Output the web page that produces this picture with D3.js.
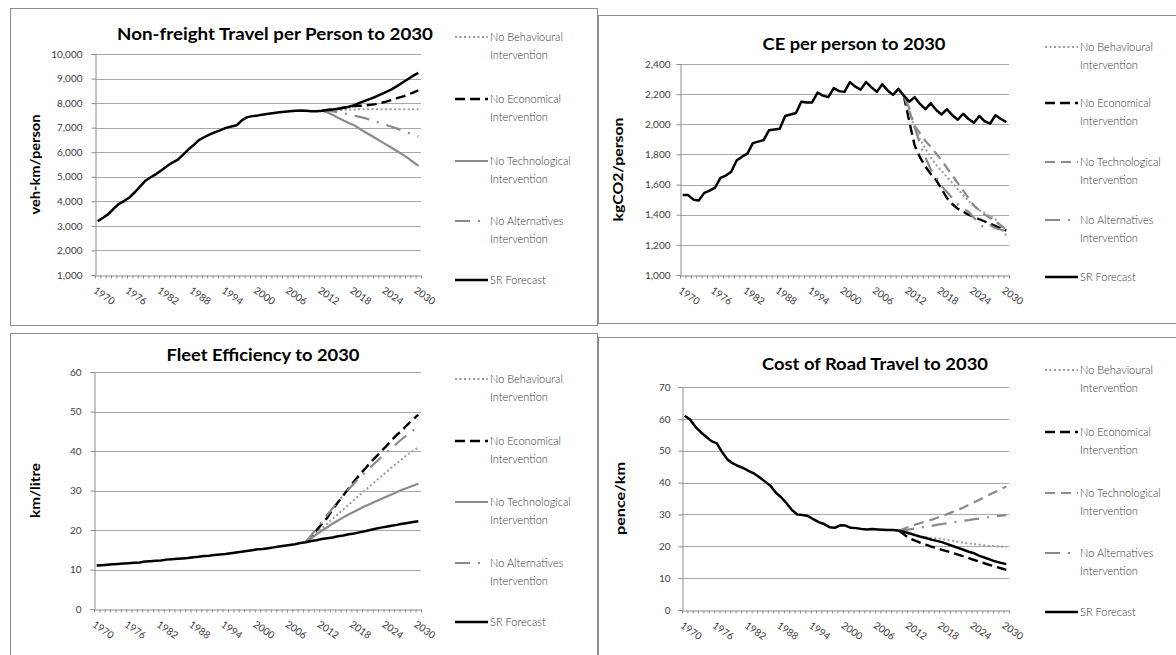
<!DOCTYPE html>
<html>
<head>
<meta charset="utf-8">
<script src="https://cdn.jsdelivr.net/npm/d3@7"></script>
<style>
  body { margin: 0; background: #fff; }
  svg { display: block; font-family: Lato, "Open Sans", sans-serif; }
</style>
</head>
<body>
<svg id="chart" width="1176" height="655"></svg>
<script>
// categories
const years = d3.range(1970, 2031)
const yearLabels = [1970, 1976, 1982, 1988, 1994, 2000, 2006, 2012, 2018, 2024, 2030]

const legendNames = [
    ["No Behavioural", "Intervention"],
    ["No Economical", "Intervention"],
    ["No Technological", "Intervention"],
    ["No Alternatives", "Intervention"],
    ["SR Forecast"]
]

// --- non-freight travel, veh-km/person
const travelTicks = [1000, 2000, 3000, 4000, 5000, 6000, 7000, 8000, 9000, 10000]
const travelSR = [
    3190, 3330, 3480, 3700, 3900, 4020, 4170, 4380, 4620, 4850,
    4990, 5120, 5280, 5440, 5580, 5700, 5900, 6120, 6300, 6500,
    6620, 6730, 6820, 6900, 6990, 7050, 7100, 7300, 7430, 7470,
    7500, 7540, 7570, 7600, 7630, 7650, 7670, 7690, 7700, 7690,
    7670, 7670, 7690, 7720, 7740, 7770, 7810, 7850, 7920, 8010,
    8090, 8170, 8260, 8360, 8460, 8560, 8690, 8830, 8970, 9110,
    9230]
const travelStart = 2012
const travelBehav = [7690, 7700, 7710, 7720, 7730, 7740, 7740, 7750, 7750, 7750, 7750, 7750, 7750, 7750, 7750, 7750, 7750, 7750, 7750]
const travelEcon = [7690, 7720, 7740, 7770, 7810, 7850, 7880, 7890, 7900, 7930, 7960, 8010, 8060, 8130, 8200, 8260, 8340, 8430, 8520]
const travelTech = [7690, 7620, 7520, 7400, 7290, 7190, 7100, 6960, 6820, 6700, 6570, 6440, 6310, 6180, 6050, 5910, 5770, 5610, 5440]
const travelAlt = [7690, 7680, 7660, 7630, 7590, 7540, 7490, 7440, 7390, 7320, 7250, 7180, 7110, 7040, 6960, 6880, 6800, 6720, 6650]

// --- CE per person, kgCO2/person
const ceTicks = [1000, 1200, 1400, 1600, 1800, 2000, 2200, 2400]
const ceSR = [
    1530, 1530, 1500, 1495, 1545, 1560, 1580, 1645, 1660, 1685,
    1760, 1785, 1805, 1875, 1885, 1895, 1960, 1965, 1970, 2055,
    2065, 2075, 2150, 2145, 2145, 2210, 2190, 2180, 2240, 2220,
    2215, 2280, 2250, 2230, 2280, 2245, 2215, 2265, 2225, 2195,
    2235, 2190, 2150, 2180, 2135, 2100, 2140, 2095, 2065, 2100,
    2060, 2030, 2070, 2035, 2010, 2055, 2020, 2005, 2060, 2035,
    2015]
const ceStart = 2011
const ceBehav = [2190, 2080, 1980, 1900, 1840, 1780, 1730, 1690, 1650, 1610, 1570, 1530, 1490, 1460, 1430, 1410, 1390, 1370, 1320, 1260]
const ceEcon = [2190, 2020, 1860, 1780, 1720, 1670, 1630, 1570, 1510, 1470, 1440, 1420, 1400, 1385, 1370, 1355, 1340, 1325, 1310, 1295]
const ceTech = [2190, 2090, 1990, 1940, 1890, 1850, 1805, 1760, 1710, 1660, 1610, 1560, 1510, 1460, 1430, 1400, 1380, 1355, 1330, 1300]
const ceAlt = [2190, 2110, 1980, 1870, 1780, 1700, 1650, 1590, 1550, 1510, 1470, 1440, 1420, 1380, 1340, 1310, 1330, 1310, 1300, 1290]

// --- fleet efficiency, km/litre
const fleetTicks = [0, 10, 20, 30, 40, 50, 60]
const fleetSR = [
    11.0, 11.1, 11.2, 11.3, 11.4, 11.5, 11.6, 11.7, 11.8, 12.0,
    12.1, 12.2, 12.3, 12.5, 12.6, 12.7, 12.8, 12.9, 13.1, 13.2,
    13.4, 13.5, 13.7, 13.8, 13.9, 14.1, 14.3, 14.5, 14.7, 14.9,
    15.1, 15.2, 15.4, 15.6, 15.8, 16.0, 16.2, 16.4, 16.7, 16.9,
    17.2, 17.4, 17.7, 17.9, 18.1, 18.4, 18.6, 18.9, 19.1, 19.4,
    19.7, 20.0, 20.3, 20.6, 20.8, 21.1, 21.3, 21.6, 21.8, 22.0,
    22.2]
const fleetStart = 2009
const fleetBehav = [16.9, 18.0, 19.2, 20.4, 21.6, 22.8, 24.0, 25.2, 26.4, 27.6, 28.8, 30.0, 31.1, 32.3, 33.5, 34.6, 35.8, 36.9, 38.0, 39.1, 40.0, 40.9]
const fleetEcon = [16.9, 18.3, 19.9, 21.5, 23.1, 25.2, 27.0, 28.7, 30.5, 32.3, 33.9, 35.4, 37.0, 38.4, 39.8, 41.2, 42.7, 44.1, 45.3, 46.7, 48.0, 49.2]
const fleetTech = [16.9, 17.9, 18.9, 19.8, 20.7, 21.6, 22.4, 23.2, 23.9, 24.6, 25.3, 26.0, 26.6, 27.2, 27.8, 28.4, 29.0, 29.6, 30.2, 30.7, 31.2, 31.7]
const fleetAlt = [16.9, 18.6, 20.3, 22.0, 23.8, 25.5, 27.2, 28.8, 30.3, 31.8, 33.2, 34.5, 35.8, 37.1, 38.3, 39.5, 40.7, 41.9, 43.1, 44.2, 45.2, 46.1]

// --- cost of road travel, pence/km
const costTicks = [0, 10, 20, 30, 40, 50, 60, 70]
const costSR = [
    61.0, 59.8, 57.5, 55.8, 54.4, 53.0, 52.3, 49.5, 47.2, 46.0,
    45.2, 44.5, 43.6, 42.8, 41.6, 40.3, 39.0, 36.8, 35.4, 33.5,
    31.4, 30.0, 29.8, 29.5, 28.5, 27.6, 27.0, 26.0, 25.8, 26.6,
    26.5, 25.8, 25.7, 25.4, 25.3, 25.4, 25.3, 25.2, 25.1, 25.1,
    24.9, 24.5, 24.0, 23.5, 23.0, 22.6, 22.1, 21.7, 21.3, 20.7,
    20.1, 19.5, 18.9, 18.3, 17.8, 17.0, 16.4, 15.8, 15.2, 14.8,
    14.4]
const costStart = 2010
const costBehav = [24.9, 24.5, 24.0, 23.5, 23.1, 22.8, 22.6, 22.5, 22.3, 22.0, 21.7, 21.4, 21.1, 20.9, 20.7, 20.5, 20.3, 20.1, 20.0, 19.9, 19.8]
const costEcon = [24.9, 23.6, 22.4, 21.8, 21.1, 20.5, 19.9, 19.4, 18.9, 18.4, 17.9, 17.4, 16.8, 16.3, 15.7, 15.2, 14.6, 14.1, 13.6, 13.1, 12.6]
const costTech = [24.9, 25.6, 26.2, 26.8, 27.3, 27.8, 28.3, 28.9, 29.5, 30.1, 30.8, 31.5, 32.2, 33.0, 33.8, 34.6, 35.5, 36.3, 37.1, 37.9, 38.8]
const costAlt = [24.9, 25.1, 25.3, 25.6, 25.9, 26.1, 26.4, 26.7, 27.0, 27.2, 27.5, 27.7, 28.0, 28.2, 28.5, 28.7, 28.9, 29.2, 29.4, 29.6, 29.8]

// line styles, in legend order
const GRAY = "#8a8a8a"
const styleBehav = { stroke: "#9c9c9c", width: 2, dash: "2,2.5" }
const styleEcon = { stroke: "#000", width: 2.4, dash: "10,5" }
const styleTechSolid = { stroke: GRAY, width: 2.2, dash: null }
const styleTechDash = { stroke: GRAY, width: 2.2, dash: "10,6" }
const styleAlt = { stroke: GRAY, width: 2.2, dash: "15,8,2,8" }
const styleSR = { stroke: "#000", width: 2.5, dash: null }

const panels = [
    {
        frame: [10, 8, 587, 317], plot: { l: 95, r: 421, t: 54, b: 275 },
        domain: [1000, 10000], ticks: travelTicks, fmt: d3.format(","), pad: 9,
        title: "Non-freight Travel per Person to 2030", titleX: 275, titleY: 40, titleW: 316,
        yLabel: "veh-km/person", yLabelX: 35, yLabelW: 100,
        legendX: 455, legendRows: [37, 99, 161, 221, 280],
        sr: travelSR, start: travelStart,
        scen: [travelBehav, travelEcon, travelTech, travelAlt],
        styles: [styleBehav, styleEcon, styleTechSolid, styleAlt]
    },
    {
        frame: [598, 15, 620, 308], plot: { l: 680, r: 1009, t: 64, b: 275 },
        domain: [1000, 2400], ticks: ceTicks, fmt: d3.format(","), pad: 6,
        title: "CE per person to 2030", titleX: 854, titleY: 50, titleW: 183,
        yLabel: "kgCO2/person", yLabelX: 618, yLabelW: 104,
        legendX: 1045, legendRows: [47, 103, 162, 220, 277],
        sr: ceSR, start: ceStart,
        scen: [ceBehav, ceEcon, ceTech, ceAlt],
        styles: [styleBehav, styleEcon, styleTechDash, styleAlt]
    },
    {
        frame: [10, 333, 587, 340], plot: { l: 94, r: 421, t: 372, b: 609 },
        domain: [0, 60], ticks: fleetTicks, fmt: d3.format("d"), pad: 9,
        title: "Fleet Efficiency to 2030", titleX: 263, titleY: 361, titleW: 193,
        yLabel: "km/litre", yLabelX: 35, yLabelW: 55,
        legendX: 455, legendRows: [379, 441, 502, 563, 622],
        sr: fleetSR, start: fleetStart,
        scen: [fleetBehav, fleetEcon, fleetTech, fleetAlt],
        styles: [styleBehav, styleEcon, styleTechSolid, styleAlt]
    },
    {
        frame: [598, 337, 620, 340], plot: { l: 682, r: 1009, t: 387, b: 610 },
        domain: [0, 70], ticks: costTicks, fmt: d3.format("d"), pad: 8,
        title: "Cost of Road Travel to 2030", titleX: 875, titleY: 370, titleW: 226,
        yLabel: "pence/km", yLabelX: 620, yLabelW: 73,
        legendX: 1045, legendRows: [370, 432, 493, 553, 612],
        sr: costSR, start: costStart,
        scen: [costBehav, costEcon, costTech, costAlt],
        styles: [styleBehav, styleEcon, styleTechDash, styleAlt]
    }
]

const svg = d3.select("#chart")

function applyStyle(sel, s) {
    sel.attr("fill", "none")
        .attr("stroke", s.stroke)
        .attr("stroke-width", s.width)
        .attr("stroke-dasharray", s.dash)
}

function drawPanel(p) {
    const [fx, fy, fw, fh] = p.frame
    svg.append("rect")
        .attr("x", fx + 0.5).attr("y", fy + 0.5)
        .attr("width", fw).attr("height", fh)
        .attr("fill", "#fff").attr("stroke", "#8c8c8c")

    const g = svg.append("g")
    const { l, r, t, b } = p.plot

    // categories in bands, like a category axis
    const x = d3.scaleBand().domain(years).range([l, r])
    const xc = d => x(d) + x.bandwidth() / 2
    const y = d3.scaleLinear().domain(p.domain).range([b, t])

    // gridlines
    g.append("g").selectAll("line")
        .data(p.ticks.slice(1))
        .join("line")
        .attr("x1", l).attr("x2", r)
        .attr("y1", d => Math.round(y(d)) + 0.5).attr("y2", d => Math.round(y(d)) + 0.5)
        .attr("stroke", "#a8a8a8")

    // y axis
    const ya = g.append("g")
        .attr("transform", `translate(${l + 0.5},0)`)
        .call(d3.axisLeft(y).tickValues(p.ticks).tickFormat(p.fmt).tickSize(4).tickPadding(p.pad))
    ya.selectAll("path, line").attr("stroke", "#8c8c8c")
    ya.selectAll("text").attr("font-size", 10).attr("fill", "#404040").attr("font-family", "Lato, sans-serif")

    // x axis: tick marks between categories
    const xb = d3.scaleLinear().domain([1969.5, 2030.5]).range([l, r])
    const xa = g.append("g")
        .attr("transform", `translate(0,${b + 0.5})`)
        .call(d3.axisBottom(xb).tickValues(d3.range(1969.5, 2031, 1)).tickFormat("").tickSize(3).tickSizeOuter(0))
    xa.selectAll("path, line").attr("stroke", "#8c8c8c")

    g.append("g").selectAll("text")
        .data(yearLabels)
        .join("text")
        .attr("transform", d => `translate(${xc(d) - 5},${b + 17}) rotate(35)`)
        .attr("font-size", 10)
        .attr("fill", "#404040")
        .text(d => d)

    // title
    g.append("text")
        .attr("x", p.titleX).attr("y", p.titleY)
        .attr("text-anchor", "middle")
        .attr("font-size", 17).attr("font-weight", "bold")
        .attr("fill", "#000")
        .attr("textLength", p.titleW).attr("lengthAdjust", "spacingAndGlyphs")
        .text(p.title)

    // y label
    const cy = (t + b) / 2
    g.append("text")
        .attr("transform", `translate(${p.yLabelX},${cy}) rotate(-90)`)
        .attr("text-anchor", "middle").attr("dy", "0.36em")
        .attr("font-size", 14).attr("font-weight", "bold")
        .attr("fill", "#000")
        .attr("textLength", p.yLabelW).attr("lengthAdjust", "spacingAndGlyphs")
        .text(p.yLabel)

    // lines
    const line = d3.line().x(d => xc(d.year)).y(d => y(d.v))
    p.scen.forEach((vals, i) => {
        const data = vals.map((v, k) => ({ year: p.start + k, v }))
        g.append("path").datum(data).attr("d", line).call(applyStyle, p.styles[i])
    })
    const srData = p.sr.map((v, k) => ({ year: years[k], v }))
    g.append("path").datum(srData).attr("d", line)
        .attr("stroke-linejoin", "round")
        .call(applyStyle, styleSR)

    // legend
    const allStyles = p.styles.concat([styleSR])
    const lg = g.append("g")
    legendNames.forEach((names, i) => {
        const ry = p.legendRows[i]
        lg.append("line")
            .attr("x1", p.legendX).attr("x2", p.legendX + 33)
            .attr("y1", ry).attr("y2", ry)
            .call(applyStyle, allStyles[i])
        names.forEach((n, j) => {
            lg.append("text")
                .attr("x", p.legendX + 35).attr("y", ry + 4 + j * 18)
                .attr("font-size", 11).attr("font-weight", 300)
                .attr("fill", "#333")
                .text(n)
        })
    })
}

panels.forEach(drawPanel)
</script>
</body>
</html>
